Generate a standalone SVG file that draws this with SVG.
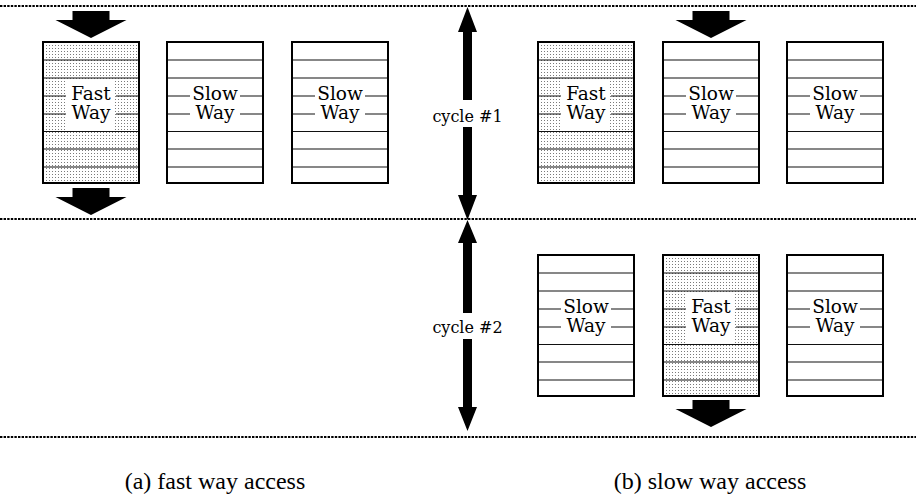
<svg xmlns="http://www.w3.org/2000/svg" xmlns:xlink="http://www.w3.org/1999/xlink" width="916" height="498" viewBox="0 0 916 498">
  <style>
    .frame { stroke: #000; stroke-width: 2; }
    .row { stroke: #111; stroke-width: 1.1; fill: none; }
    .sep { stroke: #000; stroke-width: 2; stroke-dasharray: 2.4 1.2; fill: none; }
    .lbl { font-family: "DejaVu Serif", "Liberation Serif", serif; font-size: 18.5px; text-anchor: middle; fill: #000; }
    .cyc { font-family: "DejaVu Serif", "Liberation Serif", serif; font-size: 16px; text-anchor: middle; fill: #000; }
    .cap { font-family: "Liberation Serif", "DejaVu Serif", serif; font-size: 24px; text-anchor: middle; fill: #000; }
    .blk { fill: #000; }
  </style>
  <defs>
    <pattern id="dots" width="3" height="3" patternUnits="userSpaceOnUse">
      <rect x="1" y="1" width="1" height="1" fill="#7a7a7a"/>
    </pattern>
    <!-- cache way: 8 rows, label gap in rows 3-5 -->
    <g id="rows">
      <rect x="25" y="38" width="48" height="52" fill="#fff"/>
      <path class="row" d="M2,19H96 M2,37H96 M2,90.5H96 M2,108H96 M2,126H96 M2,55H24 M74,55H96 M2,73H24 M74,73H96"/>
    </g>
    <path id="blockArrow" d="M-18.5,0H18.5V9H35.5L0,27L-35.5,9H-18.5Z"/>
  </defs>

  <!-- cycle boundaries -->
  <g id="separators">
    <line class="sep" x1="0" y1="6" x2="916" y2="6"/>
    <line class="sep" x1="0" y1="219" x2="916" y2="219"/>
    <line class="sep" x1="0" y1="437" x2="916" y2="437"/>
  </g>

  <!-- (a) fast way access -->
  <g id="a-fast" transform="translate(42,41)">
    <rect class="frame" x="1" y="1" width="96" height="141" fill="url(#dots)"/>
    <use xlink:href="#rows"/>
    <text class="lbl" x="49" y="59">Fast</text>
    <text class="lbl" x="49" y="78">Way</text>
  </g>
  <g id="a-slow1" transform="translate(166,41)">
    <rect class="frame" x="1" y="1" width="96" height="141" fill="#fff"/>
    <use xlink:href="#rows"/>
    <text class="lbl" x="49" y="59">Slow</text>
    <text class="lbl" x="49" y="78">Way</text>
  </g>
  <g id="a-slow2" transform="translate(291,41)">
    <rect class="frame" x="1" y="1" width="96" height="141" fill="#fff"/>
    <use xlink:href="#rows"/>
    <text class="lbl" x="49" y="59">Slow</text>
    <text class="lbl" x="49" y="78">Way</text>
  </g>

  <!-- (b) slow way access, cycle 1 -->
  <g id="b1-fast" transform="translate(537,41)">
    <rect class="frame" x="1" y="1" width="96" height="141" fill="url(#dots)"/>
    <use xlink:href="#rows"/>
    <text class="lbl" x="49" y="59">Fast</text>
    <text class="lbl" x="49" y="78">Way</text>
  </g>
  <g id="b1-slow1" transform="translate(662,41)">
    <rect class="frame" x="1" y="1" width="96" height="141" fill="#fff"/>
    <use xlink:href="#rows"/>
    <text class="lbl" x="49" y="59">Slow</text>
    <text class="lbl" x="49" y="78">Way</text>
  </g>
  <g id="b1-slow2" transform="translate(786,41)">
    <rect class="frame" x="1" y="1" width="96" height="141" fill="#fff"/>
    <use xlink:href="#rows"/>
    <text class="lbl" x="49" y="59">Slow</text>
    <text class="lbl" x="49" y="78">Way</text>
  </g>

  <!-- (b) slow way access, cycle 2 -->
  <g id="b2-slow1" transform="translate(537,254)">
    <rect class="frame" x="1" y="1" width="96" height="141" fill="#fff"/>
    <use xlink:href="#rows"/>
    <text class="lbl" x="49" y="59">Slow</text>
    <text class="lbl" x="49" y="78">Way</text>
  </g>
  <g id="b2-fast" transform="translate(662,254)">
    <rect class="frame" x="1" y="1" width="96" height="141" fill="url(#dots)"/>
    <use xlink:href="#rows"/>
    <text class="lbl" x="49" y="59">Fast</text>
    <text class="lbl" x="49" y="78">Way</text>
  </g>
  <g id="b2-slow2" transform="translate(786,254)">
    <rect class="frame" x="1" y="1" width="96" height="141" fill="#fff"/>
    <use xlink:href="#rows"/>
    <text class="lbl" x="49" y="59">Slow</text>
    <text class="lbl" x="49" y="78">Way</text>
  </g>

  <!-- access arrows and cycle spans -->
  <g id="connectors">
    <use class="blk" xlink:href="#blockArrow" transform="translate(91,11)"/>
    <use class="blk" xlink:href="#blockArrow" transform="translate(91,188)"/>
    <use class="blk" xlink:href="#blockArrow" transform="translate(711,11)"/>
    <use class="blk" xlink:href="#blockArrow" transform="translate(711,400)"/>
    <!-- cycle #1 span -->
    <path class="blk" d="M467.5,7L477,32H472V100H463V32H458Z"/>
    <path class="blk" d="M467.5,220L477,195H472V127H463V195H458Z"/>
    <!-- cycle #2 span -->
    <path class="blk" d="M467.5,220L477,243H472V313H463V243H458Z"/>
    <path class="blk" d="M467.5,431L477,407H472V339H463V407H458Z"/>
  </g>

  <g id="labels">
    <text class="cyc" x="467.5" y="122">cycle #1</text>
    <text class="cyc" x="467.5" y="333">cycle #2</text>
    <text class="cap" x="215" y="489">(a) fast way access</text>
    <text class="cap" x="710" y="489">(b) slow way access</text>
  </g>
</svg>
